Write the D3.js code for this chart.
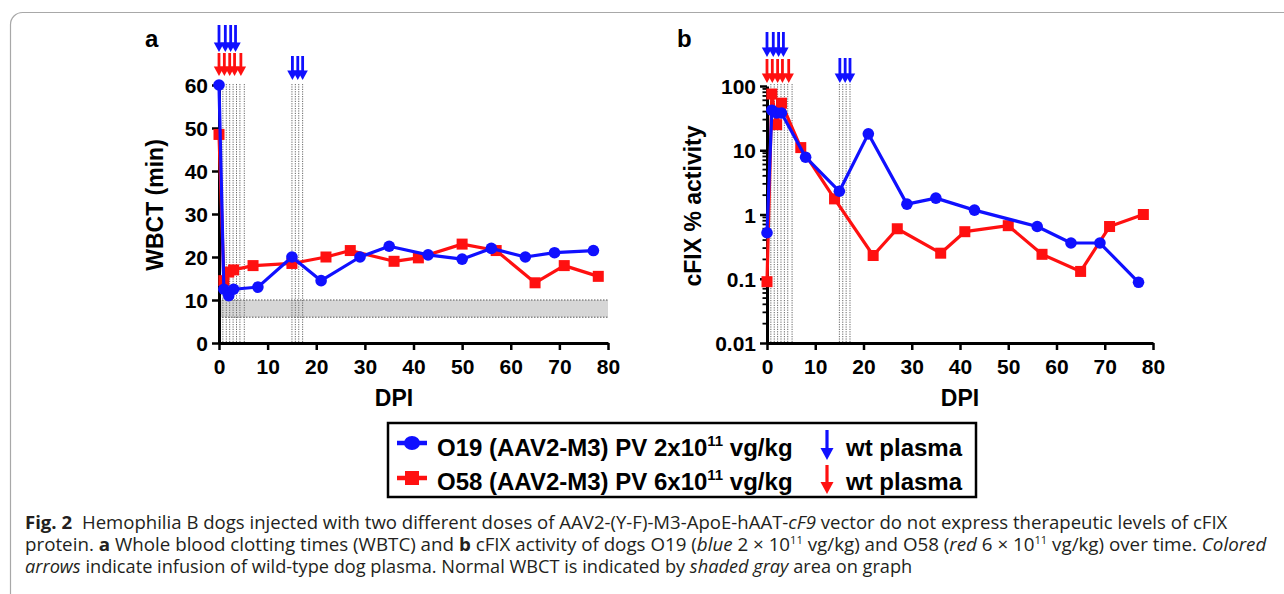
<!DOCTYPE html>
<html>
<head>
<meta charset="utf-8">
<script src="https://cdn.jsdelivr.net/npm/d3@7"></script>
<style>
  html, body { margin: 0; padding: 0; background: #fff; }
  svg { display: block; }
</style>
</head>
<body>
<svg id="chart" width="1284" height="594"></svg>
<script>
// ---------- DATA ----------
const xTicks = [0, 10, 20, 30, 40, 50, 60, 70, 80];
const wbctTicks = [0, 10, 20, 30, 40, 50, 60];
const fixTicks = [0.01, 0.1, 1, 10, 100];

const daysA_O19 = [0, 1, 2, 3, 8, 15, 21, 29, 35, 43, 50, 56, 63, 69, 77];
const wbct_O19  = [60, 12.5, 11, 12.5, 13, 20, 14.5, 20, 22.5, 20.5, 19.5, 22, 20, 21, 21.5];
const daysA_O58 = [0, 1, 2, 3, 7, 15, 22, 27, 36, 41, 50, 57, 65, 71, 78];
const wbct_O58  = [48.5, 14.5, 16.5, 17, 18, 18.5, 20, 21.5, 19, 19.8, 23, 21.5, 14, 18, 15.5];

const daysB_O19 = [0, 1, 2, 3, 8, 15, 21, 29, 35, 43, 56, 63, 69, 77];
const fix_O19   = [0.52, 42, 38, 38, 7.8, 2.3, 18, 1.45, 1.8, 1.17, 0.65, 0.36, 0.36, 0.088];
const daysB_O58 = [0, 1, 2, 3, 7, 14, 22, 27, 36, 41, 50, 57, 65, 71, 78];
const fix_O58   = [0.09, 75, 25, 54, 11, 1.75, 0.23, 0.6, 0.25, 0.54, 0.67, 0.24, 0.13, 0.65, 1.0];

const normalWBCT = [6, 10];
const blueArrowDays1 = [0, 1.3, 2.4, 3.4];
const redArrowDays   = [0, 1.1, 2.2, 3.2, 4.5];
const blueArrowDays2 = [15.1, 16.2, 17.2];
const plasmaLineDays = [0.8, 1.5, 2.2, 2.9, 3.6, 4.3, 5.2, 15, 15.7, 16.4, 17.2];

const seriesNames = ["O19 (AAV2-M3) PV 2x10", "O58 (AAV2-M3) PV 6x10"];
const arrowLabel = "wt plasma";

// ---------- STYLE ----------
const BLUE = "#1010ff", RED = "#ff1010";
const FONT = "'Liberation Sans', Arial, Helvetica, sans-serif";
const svg = d3.select("#chart");
svg.append("rect").attr("width", 1284).attr("height", 594).attr("fill", "#fff");

// outer frame
svg.append("rect").attr("x", 10.5).attr("y", 12.5).attr("width", 1300).attr("height", 600)
  .attr("rx", 12).attr("fill", "none").attr("stroke", "#a8a8a8").attr("stroke-width", 1.2);

function arrow(g, x, y1, y2, color, big) {
  const hw = big ? 6.5 : 5.2, hh = big ? 12 : 9.5;
  g.append("line").attr("x1", x).attr("x2", x).attr("y1", y1).attr("y2", y2 - hh + 1)
    .attr("stroke", color).attr("stroke-width", big ? 3.2 : 2.8);
  g.append("path").attr("d", `M${x - hw},${y2 - hh}L${x + hw},${y2 - hh}L${x},${y2}Z`).attr("fill", color);
}

function panel(opts) {
  const g = svg.append("g");
  const x = d3.scaleLinear().domain([0, 80]).range(opts.xr);
  const y = opts.y;

  if (opts.band) {
    g.append("rect").attr("x", x(0)).attr("width", x(80) - x(0))
      .attr("y", y(normalWBCT[1])).attr("height", y(normalWBCT[0]) - y(normalWBCT[1]))
      .attr("fill", "#d6d6d6");
    normalWBCT.forEach(v => g.append("line").attr("x1", x(0)).attr("x2", x(80))
      .attr("y1", y(v)).attr("y2", y(v)).attr("stroke", "#555").attr("stroke-width", 1)
      .attr("stroke-dasharray", "1.5,1.5"));
  }
  plasmaLineDays.forEach(d => g.append("line").attr("x1", x(d)).attr("x2", x(d))
    .attr("y1", 84).attr("y2", opts.y0).attr("stroke", "#666").attr("stroke-width", 1)
    .attr("stroke-dasharray", "1.2,1.2"));

  blueArrowDays1.forEach(d => arrow(g, x(d), opts.ab[0], opts.ab[1], BLUE));
  redArrowDays.forEach(d => arrow(g, x(d), opts.ar[0], opts.ar[1], RED));
  blueArrowDays2.forEach(d => arrow(g, x(d), opts.ab2[0], opts.ab2[1], BLUE));

  const xa = g.append("g").attr("transform", `translate(0,${opts.y0})`)
    .call(d3.axisBottom(x).tickValues(xTicks).tickSize(7).tickSizeOuter(0).tickPadding(5));
  const ya = g.append("g").attr("transform", `translate(${opts.xr[0]},0)`)
    .call(d3.axisLeft(y).tickValues(opts.yTicks).tickSize(7).tickSizeOuter(0).tickPadding(4)
      .tickFormat(d => String(d)));
  [xa, ya].forEach(a => {
    a.select(".domain").attr("stroke", "#000").attr("stroke-width", 3);
    a.selectAll(".tick line").attr("stroke", "#000").attr("stroke-width", 2.5);
    a.selectAll(".tick text").attr("fill", "#000").style("font-family", FONT)
      .style("font-weight", "bold").style("font-size", "21px");
  });
  xa.selectAll(".tick text").attr("dy", "0.9em");
  ya.selectAll(".tick text").attr("dy", "0.36em");

  if (opts.minor) {
    const minors = [];
    for (let e = -2; e < 2; e++) for (let m = 2; m <= 9; m++) minors.push(m * Math.pow(10, e));
    minors.forEach(v => g.append("line").attr("x1", opts.xr[0] - 4.5).attr("x2", opts.xr[0])
      .attr("y1", y(v)).attr("y2", y(v)).attr("stroke", "#000").attr("stroke-width", 1.8));
  }

  const draw = (days, vals, color, shape) => {
    const pts = days.map((d, i) => [x(d), y(vals[i])]);
    g.append("path").attr("d", d3.line()(pts)).attr("fill", "none").attr("stroke", color)
      .attr("stroke-width", 3.2).attr("stroke-linejoin", "round");
    pts.forEach(p => {
      if (shape === "circle") g.append("circle").attr("cx", p[0]).attr("cy", p[1]).attr("r", 5.8).attr("fill", color);
      else g.append("rect").attr("x", p[0] - 5.5).attr("y", p[1] - 5.5).attr("width", 11).attr("height", 11).attr("fill", color);
    });
  };
  draw(opts.redDays, opts.redVals, RED, "square");
  draw(opts.blueDays, opts.blueVals, BLUE, "circle");

  g.append("text").attr("transform", `translate(${opts.ytx},${opts.yty}) rotate(-90)`)
    .attr("text-anchor", "middle").style("font-family", FONT).style("font-weight", "bold")
    .style("font-size", "23px").text(opts.ytitle);
  g.append("text").attr("x", opts.dpiX).attr("y", 406).attr("text-anchor", "middle")
    .style("font-family", FONT).style("font-weight", "bold").style("font-size", "23px").text("DPI");
  g.append("text").attr("x", opts.lx).attr("y", 47)
    .style("font-family", FONT).style("font-weight", "bold").style("font-size", "24px").text(opts.label);
}

panel({
  xr: [219, 608], y0: 343,
  y: d3.scaleLinear().domain([0, 60]).range([343, 85]),
  yTicks: wbctTicks, band: true, minor: false,
  ab: [25, 52], ar: [53, 76], ab2: [56, 80],
  blueDays: daysA_O19, blueVals: wbct_O19, redDays: daysA_O58, redVals: wbct_O58,
  ytitle: "WBCT (min)", ytx: 163, yty: 205, dpiX: 394, lx: 145, label: "a"
});
panel({
  xr: [767, 1153], y0: 343,
  y: d3.scaleLog().domain([0.01, 100]).range([343, 86]),
  yTicks: fixTicks, band: false, minor: true,
  ab: [32, 57], ar: [59, 83], ab2: [58, 83],
  blueDays: daysB_O19, blueVals: fix_O19, redDays: daysB_O58, redVals: fix_O58,
  ytitle: "cFIX % activity", ytx: 701, yty: 206, dpiX: 960, lx: 677, label: "b"
});

// ---------- LEGEND ----------
const lg = svg.append("g");
lg.append("rect").attr("x", 388).attr("y", 423).attr("width", 588).attr("height", 74)
  .attr("fill", "#fff").attr("stroke", "#000").attr("stroke-width", 2.5);
const rows = [{y: 443, base: 456, color: BLUE, shape: "circle"}, {y: 478, base: 490, color: RED, shape: "square"}];
rows.forEach((r, i) => {
  lg.append("line").attr("x1", 397).attr("x2", 427).attr("y1", r.y).attr("y2", r.y)
    .attr("stroke", r.color).attr("stroke-width", 4.5);
  if (r.shape === "circle") lg.append("ellipse").attr("cx", 412).attr("cy", r.y).attr("rx", 8).attr("ry", 7).attr("fill", r.color);
  else lg.append("rect").attr("x", 405).attr("y", r.y - 7).attr("width", 14).attr("height", 14).attr("fill", r.color);
  const t = lg.append("text").attr("x", 437).attr("y", r.base).style("font-family", FONT)
    .style("font-weight", "bold").style("font-size", "24px");
  t.append("tspan").text(seriesNames[i]);
  t.append("tspan").attr("dy", -10).style("font-size", "15px").text("11");
  t.append("tspan").attr("dy", 10).text(" vg/kg");
  arrow(lg, 827, i === 0 ? 430 : 465, i === 0 ? 460 : 494, r.color, true);
  lg.append("text").attr("x", 846).attr("y", r.base).style("font-family", FONT)
    .style("font-weight", "bold").style("font-size", "24px").text(arrowLabel);
});

// ---------- CAPTION ----------
const CF = "'Open Sans', 'Noto Sans', sans-serif";
function capLine(y, len, parts) {
  const holder = svg.append("g");
  const t = holder.append("text").attr("x", 0).attr("y", 0)
    .style("font-family", CF).style("font-size", "18.5px").attr("fill", "#231f20");
  parts.forEach(p => {
    const s = t.append("tspan").text(p.t);
    if (p.b) s.style("font-weight", "bold");
    if (p.i) s.style("font-style", "italic");
    if (p.sup) s.attr("dy", -7).style("font-size", "11px");
    if (p.after) s.attr("dy", 7);
    if (p.dx) s.attr("dx", p.dx);
  });
  const w = t.node().getComputedTextLength();
  holder.attr("transform", `translate(25,${y}) scale(${len / w},1)`);
}
capLine(529, 1198, [
  {t: "Fig. 2", b: true},
  {t: " Hemophilia B dogs injected with two different doses of AAV2-(Y-F)-M3-ApoE-hAAT-", dx: 5},
  {t: "cF9", i: true},
  {t: " vector do not express therapeutic levels of cFIX"}
]);
capLine(551, 1242, [
  {t: "protein. "}, {t: "a", b: true}, {t: " Whole blood clotting times (WBTC) and "}, {t: "b", b: true},
  {t: " cFIX activity of dogs O19 ("}, {t: "blue", i: true}, {t: " 2 × 10"}, {t: "11", sup: true},
  {t: " vg/kg) and O58 (", after: true}, {t: "red", i: true}, {t: " 6 × 10"}, {t: "11", sup: true},
  {t: " vg/kg) over time. ", after: true}, {t: "Colored", i: true}
]);
capLine(573, 888, [
  {t: "arrows", i: true}, {t: " indicate infusion of wild-type dog plasma. Normal WBCT is indicated by "},
  {t: "shaded gray", i: true}, {t: " area on graph"}
]);
</script>
</body>
</html>
